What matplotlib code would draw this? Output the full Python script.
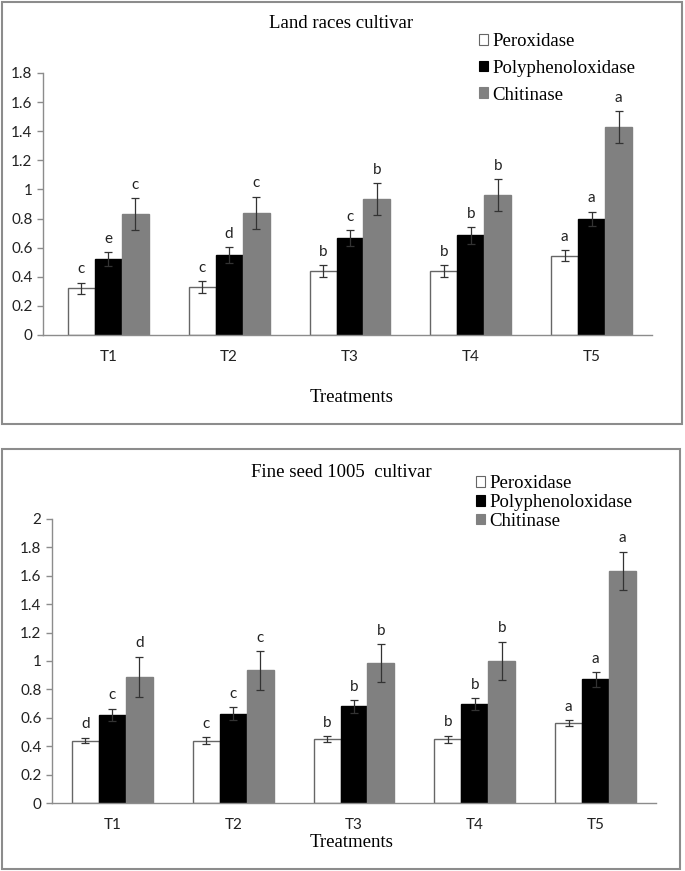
import numpy as np
import matplotlib
matplotlib.use("Agg")
import matplotlib.pyplot as plt
from matplotlib.patches import Patch, Rectangle
from matplotlib.ticker import FuncFormatter

treatments = ['T1', 'T2', 'T3', 'T4', 'T5']
enzymes = ['Peroxidase', 'Polyphenoloxidase', 'Chitinase']

# Land races cultivar
land_perox = [0.32, 0.33, 0.44, 0.44, 0.545]
land_perox_err = [0.04, 0.04, 0.04, 0.04, 0.04]
land_ppo = [0.52, 0.55, 0.665, 0.685, 0.80]
land_ppo_err = [0.048, 0.055, 0.055, 0.057, 0.048]
land_chit = [0.83, 0.84, 0.935, 0.96, 1.43]
land_chit_err = [0.11, 0.11, 0.108, 0.11, 0.11]
land_perox_let = ['c', 'c', 'b', 'b', 'a']
land_ppo_let = ['e', 'd', 'c', 'b', 'a']
land_chit_let = ['c', 'c', 'b', 'b', 'a']

# Fine seed 1005 cultivar
fine_perox = [0.44, 0.44, 0.45, 0.45, 0.56]
fine_perox_err = [0.02, 0.024, 0.02, 0.024, 0.021]
fine_ppo = [0.62, 0.63, 0.68, 0.695, 0.87]
fine_ppo_err = [0.045, 0.046, 0.045, 0.042, 0.05]
fine_chit = [0.89, 0.935, 0.985, 1.0, 1.635]
fine_chit_err = [0.14, 0.136, 0.134, 0.136, 0.136]
fine_perox_let = ['d', 'c', 'b', 'b', 'a']
fine_ppo_let = ['c', 'c', 'b', 'b', 'a']
fine_chit_let = ['d', 'c', 'b', 'b', 'a']

serif = 'Liberation Serif'
sans = 'Lato'
bar_colors = ['white', 'black', '#808080']
bar_edges = ['#666666', 'black', '#808080']
axis_gray = '#8c8c8c'


def draw_panel(fig, rect, title, title_y, treat_y, legend_xy, labelspacing,
               series, errs, letters, ymax, xleft):
    ax = fig.add_axes(rect)
    x = np.arange(len(treatments))
    w = 0.223
    for i in range(3):
        xs = x + (i - 1) * w
        ax.bar(xs, series[i], w, color=bar_colors[i], edgecolor=bar_edges[i],
               linewidth=1, zorder=2)
        ax.errorbar(xs, series[i], yerr=errs[i], fmt='none', ecolor='#333333',
                    elinewidth=0.9, capsize=3, capthick=0.9, zorder=3)
        for xi, yi, ei, lt in zip(xs, series[i], errs[i], letters[i]):
            ax.annotate(lt, (xi, yi + ei), xytext=(0, 4.5), textcoords='offset points',
                        ha='center', va='bottom', fontsize=11, family=sans,
                        color='#222222')
    ax.set_xlim(xleft, 4.5)
    ax.set_ylim(0, ymax)
    ax.set_yticks(np.arange(0, ymax + 0.01, 0.2))
    ax.yaxis.set_major_formatter(FuncFormatter(lambda v, p: '%g' % round(v, 1)))
    ax.set_xticks(x)
    ax.set_xticklabels(treatments)
    for s in ['top', 'right']:
        ax.spines[s].set_visible(False)
    for s in ['left', 'bottom']:
        ax.spines[s].set_color(axis_gray)
        ax.spines[s].set_linewidth(1)
    ax.tick_params(axis='y', length=4, width=1, color=axis_gray, pad=3.5,
                   labelsize=11, labelcolor='#222222')
    ax.tick_params(axis='x', length=0, pad=10.5, labelsize=11, labelcolor='#222222')
    for lab in ax.get_xticklabels() + ax.get_yticklabels():
        lab.set_family(sans)

    fig.text(341 / 685, 1 - title_y / 871, title, ha='center', va='center',
             fontsize=13.5, family=serif)
    fig.text(352 / 685, 1 - treat_y / 871, 'Treatments', ha='center', va='center',
             fontsize=13.5, family=serif)
    handles = [Patch(facecolor=bar_colors[i], edgecolor=bar_edges[i], linewidth=0.8)
               for i in range(3)]
    fig.legend(handles, enzymes, loc='upper left', bbox_to_anchor=legend_xy,
               frameon=False, prop={'family': serif, 'size': 13.5},
               handlelength=0.5, handleheight=0.5, handletextpad=0.2,
               labelspacing=labelspacing, borderpad=0, borderaxespad=0)
    return ax


fig = plt.figure(figsize=(6.85, 8.71), dpi=100)

draw_panel(fig, [43 / 685, 1 - 335 / 871, 609 / 685, 262 / 871],
           'Land races cultivar', 24, 397, (479 / 685, 1 - 33 / 871), 0.52,
           [land_perox, land_ppo, land_chit],
           [land_perox_err, land_ppo_err, land_chit_err],
           [land_perox_let, land_ppo_let, land_chit_let], 1.8, -0.541)

draw_panel(fig, [52 / 685, 1 - 803 / 871, 604 / 685, 284 / 871],
           'Fine seed 1005  cultivar', 472, 842, (476 / 685, 1 - 475 / 871), 0.1,
           [fine_perox, fine_ppo, fine_chit],
           [fine_perox_err, fine_ppo_err, fine_chit_err],
           [fine_perox_let, fine_ppo_let, fine_chit_let], 2.0, -0.5)

# panel frames
fig.add_artist(Rectangle((2 / 685, 1 - 424 / 871), 680 / 685, 422 / 871,
                         transform=fig.transFigure, fill=False,
                         edgecolor=axis_gray, linewidth=1.5))
fig.add_artist(Rectangle((2 / 685, 1 - 869 / 871), 678 / 685, 420 / 871,
                         transform=fig.transFigure, fill=False,
                         edgecolor=axis_gray, linewidth=1.5))

fig.savefig('out.png', dpi=100)
